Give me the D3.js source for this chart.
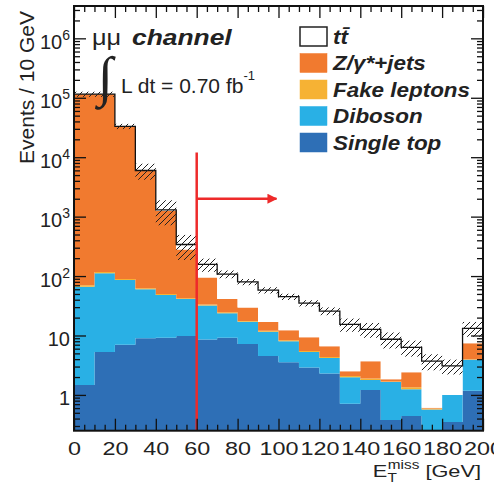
<!DOCTYPE html>
<html>
<head>
<meta charset="utf-8">
<script src="https://cdn.jsdelivr.net/npm/d3@7"></script>
<style>
body { margin: 0; background: #fff; }
svg { display: block; font-family: "Liberation Sans", Arial, sans-serif; }
</style>
</head>
<body>
<svg id="chart" width="494" height="482"></svg>
<script>
// ---- data (events / 10 GeV) ----
var binLow = [0, 10, 20, 30, 40, 50, 60, 70, 80, 90, 100, 110, 120, 130, 140, 150, 160, 170, 180, 190]
var binWidth = 10

var singleTop   = [1.47, 5.3, 7.0, 9.0, 9.2, 9.8, 8.6, 9.2, 7.2, 4.5, 3.55, 2.9, 2.3, 0.71, 1.21, 0.38, 0.44, 0, 0.35, 1.17]
var diboson     = [64.5, 105.7, 79, 51, 38.8, 31.2, 23.4, 14.4, 9.8, 7.1, 4.45, 2.4, 1.9, 1.27, 0.58, 1.27, 0.8, 0.57, 0.65, 2.73]
var fakeLeptons = [4, 6, 3, 2.5, 2, 1.5, 1.2, 1.0, 0.6, 0.4, 0.3, 0.2, 0.15, 0.1, 0.1, 0.04, 0.1, 0.02, 0, 0.1]
var zJets       = [114930, 114880, 32910, 5837, 1190, 237, 61, 16.4, 12.1, 4.9, 4.0, 3.8, 2.25, 0.42, 1.8, 0.15, 1.06, 0.02, 0, 3.4]
var ttbar       = [20, 40, 60, 70, 60, 60, 63, 67, 50, 41, 32.7, 25.7, 19.2, 12.9, 9.0, 6.8, 3.9, 3.1, 2.07, 5.8]
// relative systematic uncertainty on the total (hatched band)
var uncert      = [0.1, 0.1, 0.1, 0.3, 0.45, 0.45, 0.25, 0.15, 0.12, 0.12, 0.12, 0.12, 0.15, 0.25, 0.28, 0.3, 0.3, 0.3, 0.28, 0.28]

var xTicks = [0, 20, 40, 60, 80, 100, 120, 140, 160, 180, 200]
var yTicks = [1, 10, 100, 1000, 10000, 100000, 1000000]

var keys   = ["singleTop", "diboson", "fake", "zjets", "ttbar"]
var colors = {singleTop: "#2e6fb6", diboson: "#29b0e5", fake: "#f6b234", zjets: "#f17a2f", ttbar: "#ffffff"}
var legendNames = ["tt\u0304", "Z/\u03b3*+jets", "Fake leptons", "Diboson", "Single top"]
var legendKeys  = ["ttbar", "zjets", "fake", "diboson", "singleTop"]

// cut arrow annotation (GeV / events)
var cutValue = 60, arrowTo = 99, arrowY = 2000, cutTop = 12000

// ---- layout ----
var plotL = 74, plotR = 483, plotT = 6, plotB = 430.7
var ymin = 0.25

var x = d3.scaleLinear().domain([0, 200]).range([plotL, plotR])
var y = d3.scaleLog().domain([ymin, 3.5e6]).range([plotB, plotT])

var svg = d3.select("#chart")

var defs = svg.append("defs")
defs.append("clipPath").attr("id", "plotclip")
    .append("rect").attr("x", plotL).attr("y", plotT).attr("width", plotR - plotL).attr("height", plotB - plotT)

var pat = defs.append("pattern").attr("id", "hatch")
    .attr("patternUnits", "userSpaceOnUse").attr("width", 6).attr("height", 6)
pat.append("path").attr("d", "M-1,1 l2,-2 M0,6 l6,-6 M5,7 l2,-2")
    .attr("stroke", "#222").attr("stroke-width", 1)

defs.append("marker").attr("id", "arrowhead")
    .attr("viewBox", "0 0 10 10").attr("refX", 9).attr("refY", 5)
    .attr("markerWidth", 4).attr("markerHeight", 4).attr("orient", "auto")
    .attr("markerUnits", "strokeWidth")
    .append("path").attr("d", "M0,0 L10,5 L0,10 z").attr("fill", "#ee2a2a")

// table for the stack
var rows = binLow.map(function(b, i) {
    return {lo: b, singleTop: singleTop[i], diboson: diboson[i], fake: fakeLeptons[i],
            zjets: zJets[i], ttbar: ttbar[i], unc: uncert[i]}
})
var layers = d3.stack().keys(keys)(rows)

function stepPoints(layer) {
    var pts = []
    layer.forEach(function(d) {
        pts.push({x: d.data.lo, y0: d[0], y1: d[1]})
        pts.push({x: d.data.lo + binWidth, y0: d[0], y1: d[1]})
    })
    return pts
}

var area = d3.area()
    .x(function(d) { return x(d.x) })
    .y0(function(d) { return y(Math.max(d.y0, ymin)) })
    .y1(function(d) { return y(Math.max(d.y1, ymin)) })

var plot = svg.append("g").attr("clip-path", "url(#plotclip)")

plot.selectAll(".layer").data(layers)
    .enter().append("path")
    .attr("class", "layer")
    .attr("d", function(l) { return area(stepPoints(l)) })
    .attr("fill", function(l) { return colors[l.key] })

// total outline (top of ttbar)
var totalLine = d3.line()
    .x(function(d) { return x(d.x) })
    .y(function(d) { return y(Math.max(d.y1, ymin)) })
plot.append("path")
    .attr("d", totalLine(stepPoints(layers[layers.length - 1])))
    .attr("fill", "none").attr("stroke", "#111").attr("stroke-width", 1.3)

// hatched uncertainty band
var topLayer = layers[layers.length - 1]
plot.selectAll(".unc").data(topLayer)
    .enter().append("rect")
    .attr("class", "unc")
    .attr("x", function(d) { return x(d.data.lo) })
    .attr("width", function(d) { return x(d.data.lo + binWidth) - x(d.data.lo) })
    .attr("y", function(d) { return y(d[1] * (1 + d.data.unc)) })
    .attr("height", function(d) { return y(d[1] * (1 - d.data.unc)) - y(d[1] * (1 + d.data.unc)) })
    .attr("fill", "url(#hatch)")

// cut line + arrow
svg.append("line")
    .attr("x1", x(cutValue)).attr("x2", x(cutValue))
    .attr("y1", y(cutTop)).attr("y2", plotB)
    .attr("stroke", "#ee2a2a").attr("stroke-width", 2.5)
svg.append("line")
    .attr("x1", x(cutValue)).attr("x2", x(arrowTo))
    .attr("y1", y(arrowY)).attr("y2", y(arrowY))
    .attr("stroke", "#ee2a2a").attr("stroke-width", 2.5)
    .attr("marker-end", "url(#arrowhead)")

// ---- axes ----
var yMinor = y.ticks().filter(function(v) { return yTicks.indexOf(v) < 0 })
var xMinor = x.ticks(40).filter(function(v) { return xTicks.indexOf(v) < 0 })

function tickStyle(g) {
    g.select(".domain").remove()
    g.selectAll(".tick line").attr("stroke", "#111").attr("stroke-width", 1.3)
}

svg.append("g").attr("transform", "translate(0," + plotB + ")")
    .call(d3.axisBottom(x).tickValues(xMinor).tickSize(-6).tickFormat(""))
    .call(tickStyle)
var xAxis = svg.append("g").attr("transform", "translate(0," + plotB + ")")
    .call(d3.axisBottom(x).tickValues(xTicks).tickSize(-12).tickPadding(12).tickFormat(d3.format("d")))
    .call(tickStyle)
xAxis.selectAll("text")
    .attr("font-size", 18).attr("fill", "#222")
    .attr("font-family", "Liberation Sans, Arial, sans-serif")
    .attr("transform", "scale(1.3,1)")

svg.append("g").attr("transform", "translate(0," + plotT + ")")
    .call(d3.axisTop(x).tickValues(xMinor).tickSize(-6).tickFormat(""))
    .call(tickStyle)
svg.append("g").attr("transform", "translate(0," + plotT + ")")
    .call(d3.axisTop(x).tickValues(xTicks).tickSize(-12).tickFormat(""))
    .call(tickStyle)

svg.append("g").attr("transform", "translate(" + plotL + ",0)")
    .call(d3.axisLeft(y).tickValues(yMinor).tickSize(-6).tickFormat(""))
    .call(tickStyle)
var yAxis = svg.append("g").attr("transform", "translate(" + plotL + ",0)")
    .call(d3.axisLeft(y).tickValues(yTicks).tickSize(-12).tickPadding(4).tickFormat(""))
    .call(tickStyle)
yAxis.selectAll(".tick text").each(function(d) {
    var t = d3.select(this)
        .attr("font-size", 20).attr("fill", "#222").attr("dy", "0.5em")
        .attr("font-family", "Liberation Sans, Arial, sans-serif")
    var p = Math.round(Math.log10(d))
    if (p < 2) { t.text(p == 0 ? "1" : "10"); return }
    t.append("tspan").text("10")
    t.append("tspan").attr("font-size", 14).attr("dy", -9).text(p)
})

svg.append("g").attr("transform", "translate(" + plotR + ",0)")
    .call(d3.axisRight(y).tickValues(yMinor).tickSize(-6).tickFormat(""))
    .call(tickStyle)
svg.append("g").attr("transform", "translate(" + plotR + ",0)")
    .call(d3.axisRight(y).tickValues(yTicks).tickSize(-12).tickFormat(""))
    .call(tickStyle)

svg.append("rect")
    .attr("x", plotL).attr("y", plotT).attr("width", plotR - plotL).attr("height", plotB - plotT)
    .attr("fill", "none").attr("stroke", "#111").attr("stroke-width", 2)

// axis titles
svg.append("text")
    .attr("transform", "translate(33.5,11) rotate(-90)")
    .attr("text-anchor", "end").attr("font-size", 21).attr("fill", "#222")
    .text("Events / 10 GeV")

var xt = svg.append("g").attr("transform", "translate(481,477) scale(1.28,1)")
    .append("text").attr("text-anchor", "end").attr("font-size", 17).attr("fill", "#222")
xt.append("tspan").text("E")
xt.append("tspan").attr("font-size", 12).attr("dy", 5).text("T")
xt.append("tspan").attr("font-size", 12).attr("dx", -7).attr("dy", -13).text("miss")
xt.append("tspan").attr("dy", 8).text(" [GeV]")

// channel / luminosity labels
svg.append("g").attr("transform", "translate(92,45) scale(1.15,1)")
    .append("text").attr("font-size", 22).attr("fill", "#222").text("\u03bc\u03bc")
svg.append("g").attr("transform", "translate(132,45) scale(1.2,1)")
    .append("text").attr("font-size", 22).attr("font-weight", "bold").attr("font-style", "italic")
    .attr("fill", "#222").text("channel")

svg.append("text").attr("x", 98).attr("y", 95)
    .attr("font-size", 55).attr("font-family", "Liberation Serif, serif").attr("fill", "#222")
    .text("\u222b")
var lum = svg.append("text").attr("x", 121).attr("y", 93).attr("font-size", 21).attr("fill", "#222")
lum.append("tspan").text("L dt = 0.70 fb")
lum.append("tspan").attr("font-size", 13).attr("dy", -13).text("-1")

// legend
var leg = svg.append("g").selectAll(".leg").data(legendKeys)
    .enter().append("g").attr("class", "leg")
    .attr("transform", function(d, i) { return "translate(300," + (27 + i * 26.5) + ")" })
leg.append("rect")
    .attr("x", 0).attr("y", 0).attr("width", 27).attr("height", 19)
    .attr("fill", function(d) { return colors[d] })
    .attr("stroke", function(d) { return d == "ttbar" ? "#222" : colors[d] })
    .attr("stroke-width", function(d) { return d == "ttbar" ? 1.5 : 0.5 })
leg.append("g").attr("transform", "translate(33,16.5) scale(1.15,1)")
    .append("text")
    .attr("font-size", 19.5).attr("font-weight", "bold").attr("font-style", "italic").attr("fill", "#222")
    .text(function(d, i) { return legendNames[i] })
</script>
</body>
</html>
